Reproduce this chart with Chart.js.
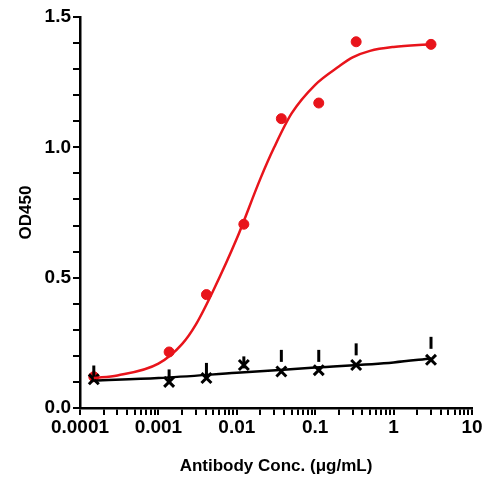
<!DOCTYPE html>
<html><head><meta charset="utf-8">
<script src="https://cdn.jsdelivr.net/npm/chart.js@4"></script>
<style>html,body{margin:0;background:#fff}#wrap{width:484px;height:481px}</style>
</head><body><div id="wrap"><canvas id="c"></canvas></div>
<script>
const conc = [0.00015, 0.00137, 0.0041, 0.0123, 0.037, 0.111, 0.333, 3.0];
const redOD = [0.12, 0.215, 0.435, 0.705, 1.11, 1.17, 1.405, 1.395];
const blackOD = [0.11, 0.10, 0.115, 0.165, 0.14, 0.145, 0.165, 0.185];
const blackErrTop = [0.14, 0.125, 0.15, 0.175, 0.2, 0.2, 0.225, 0.25];
const redFitX = [0.00015, 0.0003, 0.001, 0.002, 0.003, 0.005, 0.01, 0.02, 0.03, 0.05, 0.1, 0.2, 0.3, 0.5, 1, 3];
const redFitY = [0.115, 0.125, 0.17, 0.245, 0.32, 0.45, 0.65, 0.88, 1.0, 1.13, 1.24, 1.31, 1.345, 1.37, 1.385, 1.395];
const blackFitX = [0.00015, 0.001, 0.01, 0.1, 1, 3];
const blackFitY = [0.105, 0.115, 0.135, 0.155, 0.175, 0.19];
const xTickVals = [];
for (let e = -4; e <= 0; e++) for (let m = 1; m <= 9; m++) xTickVals.push(m * Math.pow(10, e));
xTickVals.push(10);
const decadeLabels = {0.0001:'0.0001',0.001:'0.001',0.01:'0.01',0.1:'0.1',1:'1',10:'10'};

const pts = (xs, ys) => xs.map((x, i) => ({x, y: ys[i]}));
const font = {family: 'Liberation Sans, Arial, sans-serif', size: 19, weight: 'bold'};
const titleFont = {family: font.family, size: 17, weight: 'bold'};

new Chart(document.getElementById('c'), {
  type: 'scatter',
  data: { datasets: [
    {data: pts(redFitX, redFitY), showLine: true, borderColor: '#e8141b', borderWidth: 2.5, pointRadius: 0, cubicInterpolationMode: 'monotone'},
    {data: pts(blackFitX, blackFitY), showLine: true, borderColor: '#000', borderWidth: 2.5, pointRadius: 0, cubicInterpolationMode: 'monotone'},
    {data: pts(conc, blackErrTop), pointStyle: 'line', rotation: 90, pointRadius: 6, borderColor: '#000', borderWidth: 3},
    {data: pts(conc, blackOD), pointStyle: 'crossRot', pointRadius: 7, borderColor: '#000', borderWidth: 3},
    {data: pts(conc, redOD), pointStyle: 'circle', pointRadius: 5, backgroundColor: '#e8141b', borderColor: '#e8141b'}
  ]},
  options: {
    responsive: true, maintainAspectRatio: false, animation: false,
    layout: {padding: {top: 17, right: 12, left: 12, bottom: 0}},
    plugins: {legend: {display: false}, tooltip: {enabled: false}},
    scales: {
      x: {
        type: 'logarithmic', min: 0.0001, max: 10,
        afterBuildTicks: s => { s.ticks = xTickVals.map(v => ({value: v})); },
        afterFit: s => { s.height = 73; },
        ticks: {autoSkip: false, maxRotation: 0, color: '#000', font, padding: 1,
          callback: v => decadeLabels[v] || ''},
        grid: {drawOnChartArea: false, color: '#000', lineWidth: 2, tickLength: 7},
        border: {color: '#000', width: 2.5},
        title: {display: true, text: 'Antibody Conc. (μg/mL)', color: '#000', font: titleFont, padding: {top: 0}}
      },
      y: {
        min: 0, max: 1.5,
        afterFit: s => { s.width = 68; },
        ticks: {stepSize: 0.1, autoSkip: false, color: '#000', font, padding: 2,
          callback: v => { const r = Math.round(v * 10); return r % 5 === 0 ? (r / 10).toFixed(1) : ''; }},
        grid: {drawOnChartArea: false, color: '#000', lineWidth: 2, tickLength: 7},
        border: {color: '#000', width: 2.5},
        title: {display: true, text: 'OD450', color: '#000', font: titleFont, padding: {bottom: 4}}
      }
    }
  }
});
</script></body></html>
